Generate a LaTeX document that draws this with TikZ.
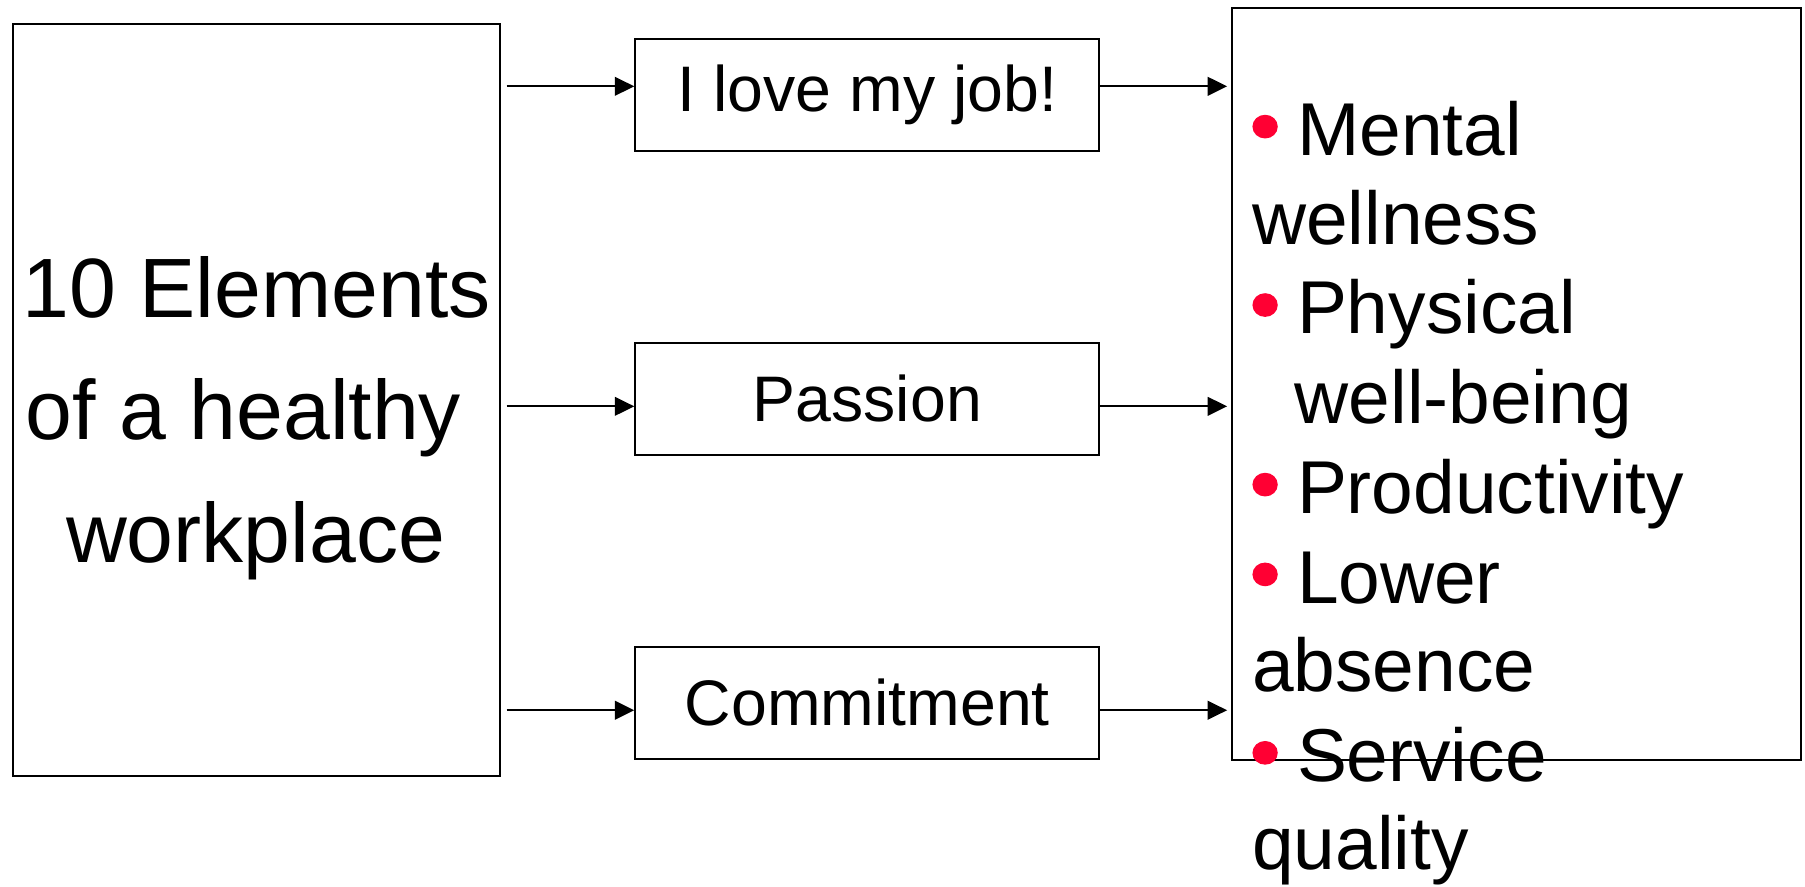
\documentclass[tikz,border=0pt]{standalone}
\usepackage{fontspec}
\setmainfont{Liberation Sans}
\usetikzlibrary{arrows.meta}
\definecolor{bulred}{RGB}{255,0,51}
\begin{document}
\begin{tikzpicture}[x=0.01cm,y=-0.01cm,
  box/.style={draw,line width=0.5pt,inner sep=0pt,anchor=north west},
  bigtxt/.style={inner sep=0pt,anchor=base,font=\fontsize{20.8pt}{30pt}\selectfont},
  midtxt/.style={font=\fontsize{15.9pt}{19pt}\selectfont},
  listtxt/.style={inner sep=0pt,anchor=base west,font=\fontsize{18.5pt}{22pt}\selectfont},
  conn/.style={line width=0.5pt,-{Triangle[length=4.8pt,width=4.6pt]}},
  bul/.style={fill=bulred,draw=none}]
\useasboundingbox (0,0) rectangle (1568,770.5);
% left box
\node[box,minimum width=4.23cm,minimum height=6.53cm] (L) at (10,20) {};
\node[bigtxt] (L1) at (223,275.6) {10 Elements};
\node[bigtxt] (L2) at (211.5,382) {of a healthy};
\node[bigtxt] (L3) at (222,489) {workplace};
% middle boxes
\node[draw,line width=0.5pt,minimum width=4.03cm,minimum height=0.97cm,midtxt] (m1) at (753.5,82.5) {I love my job!};
\node[draw,line width=0.5pt,minimum width=4.03cm,minimum height=0.97cm,midtxt] (m2) at (753.5,346.5) {Passion};
\node[draw,line width=0.5pt,minimum width=4.03cm,minimum height=0.97cm,midtxt] (m3) at (753.5,610.5) {Commitment};
% right box
\node[box,minimum width=4.94cm,minimum height=6.53cm] (R) at (1069,6) {};
% arrows
\coordinate (a1) at (440,75);
\coordinate (a2) at (440,353);
\coordinate (a3) at (440,617);
\draw[conn] (a1) -- (a1 -| m1.west);
\draw[conn] (a2) -- (a2 -| m2.west);
\draw[conn] (a3) -- (a3 -| m3.west);
\draw[conn,shorten >=3*0.01cm] (a1 -| m1.east) -- (a1 -| R.west);
\draw[conn,shorten >=3*0.01cm] (a2 -| m2.east) -- (a2 -| R.west);
\draw[conn,shorten >=3*0.01cm] (a3 -| m3.east) -- (a3 -| R.west);
% list
\node[listtxt] (t1) at (1126,135) {Mental};
\node[listtxt] (t2) at (1087,212) {wellness};
\node[listtxt] (t3) at (1126,290) {Physical};
\node[listtxt] (t4) at (1124,368) {well-being};
\node[listtxt] (t5) at (1126,446) {Productivity};
\node[listtxt] (t6) at (1126,524) {Lower};
\node[listtxt] (t7) at (1087,601) {absence};
\node[listtxt] (t8) at (1126,679) {Service};
\node[listtxt] (t9) at (1087,755) {quality};
\foreach \y in {135,290,446,524,679} \fill[bul] (1099,\y-25) ellipse (11 and 10.3);
\end{tikzpicture}
\end{document}
